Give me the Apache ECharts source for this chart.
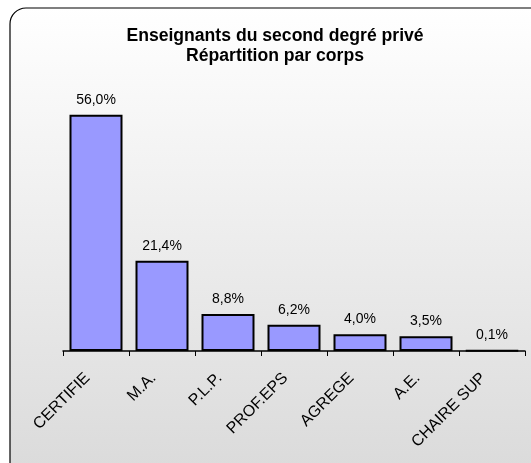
<!DOCTYPE html>
<html><head><meta charset="utf-8">
<script src="https://cdn.jsdelivr.net/npm/echarts@6/dist/echarts.min.js"></script>
<style>html,body{margin:0;padding:0;background:#fff}#c{width:531px;height:463px}</style>
</head><body><div id="c"></div>
<script>
const categories = ['CERTIFIE', 'M.A.', 'P.L.P.', 'PROF.EPS', 'AGREGE', 'A.E.', 'CHAIRE SUP'];
const values = [56.0, 21.4, 8.8, 6.2, 4.0, 3.5, 0.1];
const titleLines = ['Enseignants du second degré privé', 'Répartition par corps'];

const chart = echarts.init(document.getElementById('c'), null, {renderer: 'canvas'});
chart.setOption({
  animation: false,
  backgroundColor: '#ffffff',
  graphic: [{
    type: 'rect', z: -10, silent: true,
    shape: {x: 10, y: 8, width: 540, height: 470, r: 16},
    style: {
      fill: new echarts.graphic.LinearGradient(0, 0, 0, 1, [
        {offset: 0, color: '#ffffff'}, {offset: 1, color: '#dadada'}
      ]),
      stroke: '#000', lineWidth: 1.2
    }
  }],
  title: {
    text: titleLines.join('\n'),
    left: 270, top: 21, textAlign: 'center',
    textStyle: {fontFamily: 'Liberation Sans, Arial, sans-serif', fontSize: 17.6, fontWeight: 'bold', color: '#000', lineHeight: 20}
  },
  grid: {left: 63, right: 6, top: 98, bottom: 112, containLabel: false},
  xAxis: {
    type: 'category', data: categories,
    axisLine: {lineStyle: {color: '#000', width: 1.5}},
    axisTick: {show: true, length: 5, lineStyle: {color: '#000', width: 1}},
    axisLabel: {rotate: 45, interval: 0, color: '#000', fontSize: 16, margin: 16,
      padding: [0, 12, 0, 0],
      fontFamily: 'Liberation Sans, Arial, sans-serif'}
  },
  yAxis: {type: 'value', min: 0, max: 60, show: false, splitLine: {show: false}},
  series: [{
    type: 'bar', data: values, barWidth: 53,
    itemStyle: {color: '#9999ff', borderColor: '#000', borderWidth: 2},
    label: {show: true, position: 'top', distance: 8, color: '#000', fontSize: 14,
      fontFamily: 'Liberation Sans, Arial, sans-serif',
      formatter: p => p.value.toFixed(1).replace('.', ',') + '%'}
  }]
});
</script></body></html>
